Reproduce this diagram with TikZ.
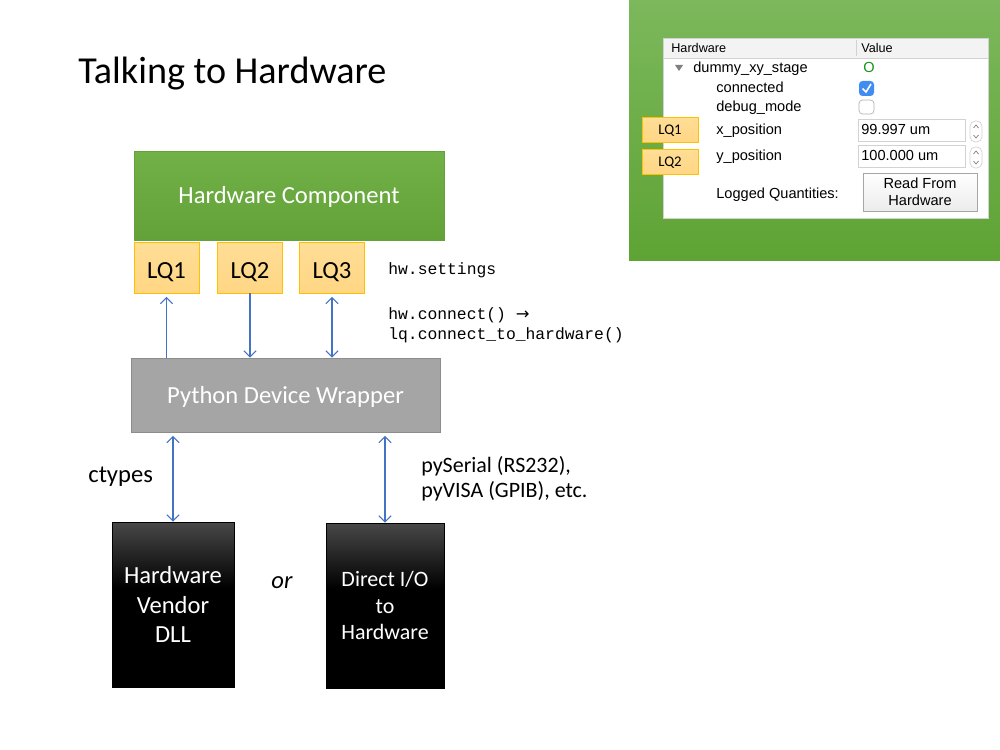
\documentclass[tikz,border=0pt]{standalone}
\usepackage{fontspec}
\setmainfont{Carlito}
\newfontfamily\codefont{Liberation Mono}
\newfontfamily\guifont{Liberation Sans}
\newfontfamily\symfont{DejaVu Sans}
\usetikzlibrary{arrows.meta,positioning}

\definecolor{hwgreentop}{RGB}{114,176,72}
\definecolor{hwgreenbot}{RGB}{98,162,56}
\definecolor{lqtop}{RGB}{255,222,150}
\definecolor{lqbot}{RGB}{255,214,132}
\definecolor{lqborder}{RGB}{255,192,0}
\definecolor{wrapgray}{RGB}{165,165,165}
\definecolor{wrapborder}{RGB}{140,140,140}
\definecolor{linkblue}{RGB}{68,114,196}
\definecolor{darktop}{RGB}{72,72,72}
\definecolor{shottop}{RGB}{124,184,92}
\definecolor{shotbot}{RGB}{94,163,52}
\definecolor{gridline}{RGB}{210,210,210}
\definecolor{headgray}{RGB}{243,243,243}
\definecolor{okgreen}{RGB}{20,150,20}
\definecolor{tickblue}{RGB}{64,140,240}
\pgfdeclareverticalshading{darkfade}{100bp}{color(0bp)=(black); color(25bp)=(black); color(55bp)=(black); color(75bp)=(darktop); color(100bp)=(darktop)}

\begin{document}
\begin{tikzpicture}[x=0.02cm,y=-0.02cm,
		>={Straight Barb[length=3.5pt,width=7pt]},
		box/.style={draw,inner sep=0pt,align=center,text=white,font=\fontsize{14}{17}\selectfont},
		hwbox/.style={box,draw=hwgreenbot,top color=hwgreentop,bottom color=hwgreenbot,minimum width=6.2cm,minimum height=1.78cm,text height=9.6pt,text depth=0pt},
		lqbox/.style={box,draw=lqborder,top color=lqtop,bottom color=lqbot,text=black,minimum width=1.3cm,minimum height=1.02cm,text height=12pt,text depth=0pt},
		wrapbox/.style={box,draw=wrapborder,fill=wrapgray,minimum width=6.18cm,minimum height=1.48cm,text height=10.2pt,text depth=0pt},
		darkbox/.style={box,draw=black,shading=darkfade,minimum height=3.3cm},
		link/.style={draw=linkblue,line width=0.6pt},
		code/.style={anchor=base west,inner sep=0pt,font=\codefont\fontsize{9.3}{11}\selectfont},
		plain/.style={inner sep=0pt,font=\fontsize{14}{17}\selectfont},
		gui/.style={anchor=west,inner sep=0pt,text height=5.5pt,text depth=0pt,font=\guifont\fontsize{8.3}{10}\selectfont},
		tag/.style={draw=lqborder,top color=lqtop,bottom color=lqbot,inner sep=0pt,minimum width=1.12cm,minimum height=0.5cm,text height=5.5pt,text depth=0pt,font=\fontsize{8.4}{10}\selectfont}
		]
	\useasboundingbox (0,0) rectangle (1000,750);

	\node[plain,anchor=base west,font=\fontsize{21.7}{25}\selectfont] (title) at (78,84) {Talking to Hardware};

	% component, settings and wrapper
	\node[hwbox] (hwcomp) at (289,195.5) {Hardware Component};
	\node[lqbox] (lq1) at (166.5,267.5) {LQ1};
	\node[lqbox] (lq2) at (250,267.5) {LQ2};
	\node[lqbox] (lq3) at (332,267.5) {LQ3};
	\node[wrapbox] (wrapper) at (285.5,395) {Python Device Wrapper};
	\node[darkbox,minimum width=2.44cm] (dll) at (173,604.5) {Hardware\\Vendor\\DLL};
	\node[darkbox,minimum width=2.36cm,font=\fontsize{12.5}{15}\selectfont] (direct) at (385,605.5) {Direct I/O\\to\\Hardware};

	\draw[link,<-] ([yshift=-2pt]lq1.south) -- (lq1.south |- wrapper.north);
	\draw[link,->] (lq2.south) -- (lq2.south |- wrapper.north);
	\draw[link,<->] ([yshift=-2pt]lq3.south) -- (lq3.south |- wrapper.north);
	\draw[link,<->] ([yshift=-2pt]dll.north |- wrapper.south) -- (dll.north);
	\draw[link,<->] ([yshift=-2pt]direct.north |- wrapper.south) -- (direct.north);

	\node[code] (settings) at (388,274) {hw.settings};
	\node[code] (connectcall) at (388,319) {hw.connect() {\symfont →}};
	\node[code] (lqcall) at (388,339) {lq.connect\_to\_hardware()};
	\node[plain,anchor=base west] (ctypes) at (88,482) {ctypes};
	\node[plain,anchor=north west,align=left,font=\fontsize{12.5}{14.2}\selectfont] (iolibs) at (421,456) {pySerial (RS232),\\pyVISA (GPIB), etc.};
	\node[plain,font=\itshape\fontsize{14}{17}\selectfont] (or) at (282,583) {or};

	% screenshot of the settings panel
	\path[top color=shottop,bottom color=shotbot] (629,0) rectangle (1000,260);
	\draw[gridline,fill=white] (663,38) rectangle (988,218);
	\draw[gridline,fill=headgray] (663,38) rectangle (988,58);
	\draw[gridline] (856,40) -- (856,56);
	\node[gui,font=\guifont\fontsize{7.2}{9}\selectfont] (colhw) at (671,48) {Hardware};
	\node[gui,font=\guifont\fontsize{7.2}{9}\selectfont] (colval) at (861,48) {Value};
	\fill[gray] (675,65) -- (683,65) -- (679,71) -- cycle;
	\node[gui] (stage) at (693,68) {dummy\_xy\_stage};
	\node[gui,text=okgreen] (ok) at (863,68) {O};
	\node[gui] (connected) at (716,88) {connected};
	\fill[tickblue,rounded corners=2pt] (859,81) rectangle (874,96);
	\draw[white,line width=0.9pt] (862.5,88.5) -- (866,92) -- (871,84);
	\node[gui] (debug) at (716,107) {debug\_mode};
	\draw[gray!60,rounded corners=2pt] (859,100) rectangle (874,114);
	\node[gui] (xpos) at (716,130) {x\_position};
	\draw[gridline] (858,119) rectangle (965,141);
	\node[gui] (xval) at (861,130) {99.997 um};
	\draw[gridline,rounded corners=3pt] (970,121) rectangle (982,142);
	\draw[gray] (973.5,128) -- (976,125) -- (978.5,128) (973.5,135) -- (976,138) -- (978.5,135);
	\node[gui] (ypos) at (716,156) {y\_position};
	\draw[gridline] (858,145) rectangle (965,167);
	\node[gui] (yval) at (861,156) {100.000 um};
	\draw[gridline,rounded corners=3pt] (970,147) rectangle (982,168);
	\draw[gray] (973.5,154) -- (976,151) -- (978.5,154) (973.5,161) -- (976,164) -- (978.5,161);
	\node[gui] (logged) at (716,194) {Logged Quantities:};
	\node[draw=gray!70,top color=white,bottom color=gray!15,inner sep=0pt,minimum width=2.28cm,minimum height=0.76cm,align=center,font=\guifont\fontsize{8.3}{10}\selectfont] (readbtn) at (920,192) {Read From\\Hardware};
	\node[tag] (tag1) at (670,129.5) {LQ1};
	\node[tag] (tag2) at (670,161.5) {LQ2};
\end{tikzpicture}
\end{document}
